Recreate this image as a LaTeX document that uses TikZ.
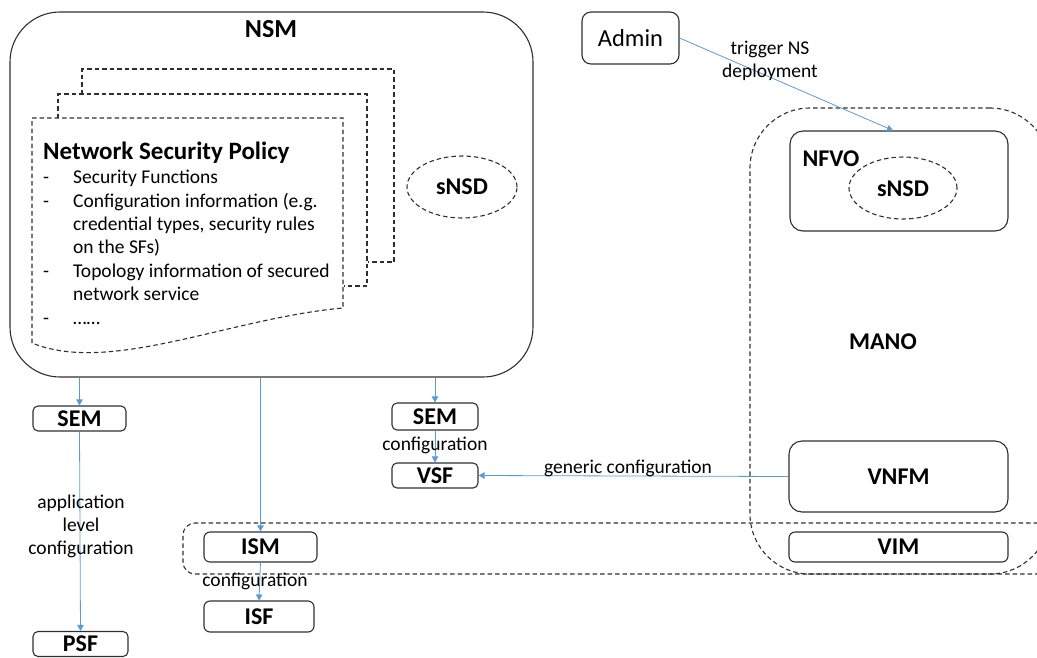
\documentclass[tikz,border=0pt]{standalone}
\usepackage{fontspec}
\setmainfont{Carlito}
\usetikzlibrary{arrows.meta,shapes.geometric}
\definecolor{arrowblue}{HTML}{5B9BD5}
\definecolor{edgec}{HTML}{2F2F2F}
\begin{document}
\begin{tikzpicture}[x=1pt,y=-1pt,
  sbox/.style={draw=edgec,line width=1.1pt,rectangle,rounded corners=#1,inner sep=0pt},
  sbox/.default=6pt,
  dbox/.style={draw=edgec,line width=1.1pt,rectangle,rounded corners=#1,inner sep=0pt,dash pattern=on 4.5pt off 3pt},
  dbox/.default=12pt,
  dell/.style={draw=edgec,line width=1.1pt,ellipse,inner sep=0pt,dash pattern=on 4.5pt off 3pt},
  dline/.style={draw=edgec,line width=1.1pt,dash pattern=on 4.5pt off 3pt},
  bl/.style={font=\fontsize{24}{26}\selectfont\bfseries},
  lb/.style={font=\fontsize{19.5}{23}\selectfont,inner sep=0pt},
  txt/.style={font=\fontsize{19.5}{23}\selectfont,inner sep=0pt,anchor=base west},
  conn/.style={draw=arrowblue,line width=0.8pt,-{Triangle[length=6pt,width=6.5pt]}}
]
\useasboundingbox (0,0) rectangle (1037,657);

% NSM
\node[sbox=50pt,minimum width=523pt,minimum height=365pt] (nsm) at (271.5,194.5) {};
\node[bl,font=\fontsize{26}{28}\selectfont\bfseries] (nsmlabel) at (271,29) {NSM};

% document stack
\draw[dline] (82,94) -- (82,69) -- (394,69) -- (394,262) -- (368,262);
\draw[dline] (58,118) -- (58,94) -- (367,94) -- (367,286) -- (344,286);
\draw[dline] (32,343) -- (32,118) -- (343,118) -- (343,308)
   .. controls (230,318) and (110,375) .. (32,343);

\node[txt,font=\fontsize{25}{28}\selectfont\bfseries] (nsp) at (43,159) {Network Security Policy};
\node[txt] (d1) at (43,183) {-};
\node[txt] (t1) at (73,183) {Security Functions};
\node[txt] (d2) at (43,207) {-};
\node[txt] (t2) at (73,207) {Configuration information (e.g.};
\node[txt] (t3) at (73,230) {credential types, security rules};
\node[txt] (t4) at (73,253) {on the SFs)};
\node[txt] (d3) at (43,277) {-};
\node[txt] (t5) at (73,277) {Topology information of secured};
\node[txt] (t6) at (73,300) {network service};
\node[txt] (d4) at (43,324) {-};
\node[txt] (t7) at (73,324) {……};

\node[dell,minimum width=110pt,minimum height=62pt] (snsd1) at (462,187) {};
\node[bl] (snsd1t) at (462,187) {sNSD};

% Admin
\node[sbox=9pt,minimum width=97pt,minimum height=52pt,font=\fontsize{24.5}{26}\selectfont] (admin) at (630.5,38) {Admin};

% MANO
\node[dbox=60pt,minimum width=300pt,minimum height=466pt] (mano) at (900,341) {};
\node[bl] (manot) at (883,342) {MANO};
\node[sbox=13pt,minimum width=218pt,minimum height=100pt] (nfvo) at (899,181) {};
\node[bl] (nfvot) at (831,159) {NFVO};
\node[dell,minimum width=108pt,minimum height=62pt] (snsd2) at (903,188) {};
\node[bl] (snsd2t) at (903,189) {sNSD};
\node[sbox=13pt,minimum width=219pt,minimum height=71pt,bl] (vnfm) at (898.5,476.5) {VNFM};

% infrastructure
\node[dbox=12pt,minimum width=867pt,minimum height=51pt] (infra) at (616.5,548.5) {};
\node[sbox=6pt,minimum width=219pt,minimum height=30pt,bl] (vim) at (898.5,547) {VIM};
\node[sbox=6pt,minimum width=113pt,minimum height=30pt,bl] (ism) at (260.5,547) {ISM};
\node[sbox=6pt,minimum width=110pt,minimum height=31pt,bl] (isf) at (259,616.5) {ISF};

% SEM / PSF / VSF
\node[sbox=5pt,minimum width=93pt,minimum height=25pt,bl] (sem1) at (79.5,418.5) {SEM};
\node[sbox=5pt,minimum width=95pt,minimum height=25pt,bl] (psf) at (80.5,644) {PSF};
\node[sbox=5pt,minimum width=86pt,minimum height=27pt,bl] (sem2) at (435,416.5) {SEM};
\node[sbox=5pt,minimum width=86pt,minimum height=25pt,bl] (vsf) at (435,475.5) {VSF};

% connectors
\draw[conn] (admin.east) -- ([xshift=-6pt]nfvo.north);
\node[lb,align=center] (trig) at (770,61) {trigger NS\\deployment};

\draw[conn] (sem1.north |- nsm.south) -- (sem1.north);
\draw[conn] (ism.north |- nsm.south) -- (ism.north);
\draw[conn] (sem2.north |- nsm.south) -- (sem2.north);
\draw[conn] (sem1.south) -- (psf.north);
\draw[conn] (sem2.south) -- (vsf.north);
\draw[conn] (ism.south) -- (isf.north);
\draw[conn] (vnfm.west) -- (vsf.east);

\node[lb,align=center] (applbl) at (81,526) {application\\level\\configuration};
\node[lb] (cfg1) at (435,445) {configuration};
\node[lb] (cfg2) at (255,581) {configuration};
\node[lb] (gencfg) at (628,468) {generic configuration};
\end{tikzpicture}
\end{document}
